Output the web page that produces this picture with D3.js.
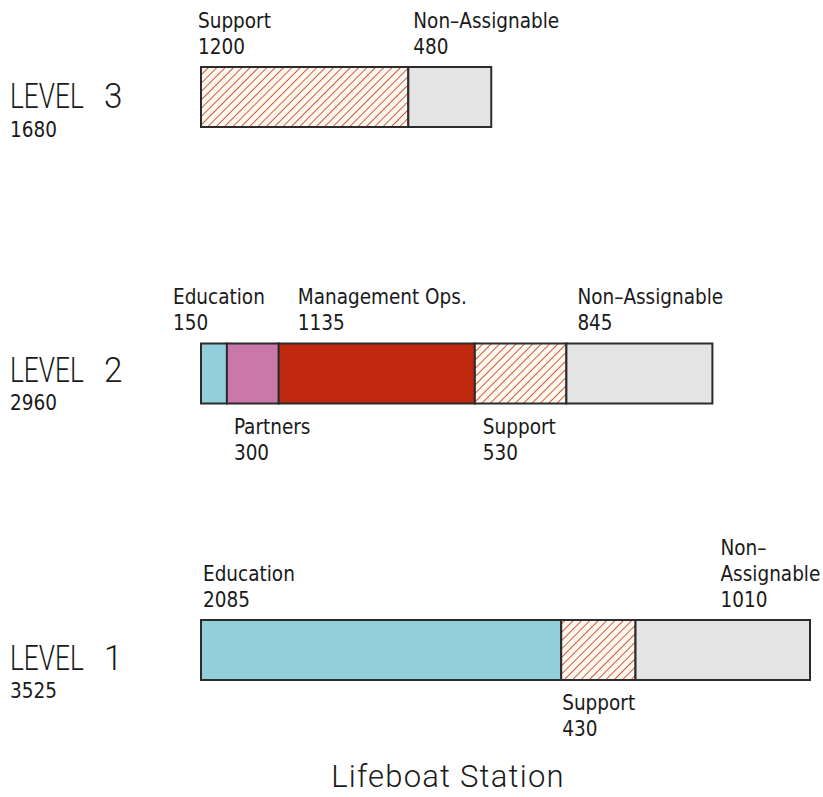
<!DOCTYPE html>
<html>
<head>
<meta charset="utf-8">
<script src="https://cdn.jsdelivr.net/npm/d3@7"></script>
<style>
  html, body { margin: 0; padding: 0; background: #ffffff; }
  svg { display: block; }
</style>
</head>
<body>
<div id="chart"></div>
<script>
// ---- data ----
const levels = ["LEVEL 3", "LEVEL 2", "LEVEL 1"];
const levelTotals = [1680, 2960, 3525];
const level3Categories = ["Support", "Non–Assignable"];
const level3Values = [1200, 480];
const level2Categories = ["Education", "Partners", "Management Ops.", "Support", "Non–Assignable"];
const level2Values = [150, 300, 1135, 530, 845];
const level1Categories = ["Education", "Support", "Non–Assignable"];
const level1Values = [2085, 430, 1010];
const chartTitle = "Lifeboat Station";

// ---- styling / layout (not data) ----
const W = 823, H = 797;
const catColor = {
  "Education": "#93cedb",
  "Partners": "#c978a9",
  "Management Ops.": "#c0290f",
  "Support": "url(#hatch)",
  "Non–Assignable": "#e4e4e4"
};
const labelLayout = [
  [{side: "above", dx: -3}, {side: "above", dx: 5}],
  [{side: "above", dx: -28}, {side: "below", dx: 7}, {side: "above", dx: 19}, {side: "below", dx: 8}, {side: "above", dx: 11}],
  [{side: "above", dx: 2}, {side: "below", dx: 1}, {side: "above", dx: 85, split: true}]
];
const levelLabelDy = [41, 39, 50];
const levelNumDy = [70, 67, 78];

const levelData = [
  {cats: level3Categories, vals: level3Values},
  {cats: level2Categories, vals: level2Values},
  {cats: level1Categories, vals: level1Values}
];

const svg = d3.select("#chart").append("svg")
  .attr("width", W).attr("height", H);

const defs = svg.append("defs");
const pat = defs.append("pattern")
  .attr("id", "hatch")
  .attr("patternUnits", "userSpaceOnUse")
  .attr("width", 5.9).attr("height", 5.9)
  .attr("patternTransform", "rotate(45)");
pat.append("rect").attr("width", 5.9).attr("height", 5.9).attr("fill", "#fff9f2");
pat.append("line")
  .attr("x1", 0).attr("y1", 0).attr("x2", 0).attr("y2", 5.9)
  .attr("stroke", "#c84a28").attr("stroke-width", 1.8);

const x = d3.scaleLinear().domain([0, d3.max(levelTotals)]).range([201, 810]);
const y = d3.scaleBand().domain(levels).range([67, 680]).paddingInner(0.783).paddingOuter(0);

const labelFont = "'DejaVu Sans Condensed', 'DejaVu Sans', sans-serif";
const bigFont = "Roboto, 'DejaVu Sans', sans-serif";

levels.forEach((lv, i) => {
  const g = svg.append("g");
  const d = levelData[i];
  let cum = 0;
  const segs = d.vals.map((v, j) => {
    const s = {cat: d.cats[j], v, x0: cum, x1: cum + v, lay: labelLayout[i][j]};
    cum += v;
    return s;
  });
  const top = y(lv), bh = y.bandwidth(), bottom = top + bh;

  g.selectAll("rect.seg").data(segs).enter().append("rect")
    .attr("class", "seg")
    .attr("x", s => x(s.x0))
    .attr("y", top)
    .attr("width", s => x(s.x1) - x(s.x0))
    .attr("height", bh)
    .attr("fill", s => catColor[s.cat])
    .attr("stroke", "#2b2b2b")
    .attr("stroke-width", 2);

  segs.forEach(s => {
    let lines = s.lay.split ? ["Non–", "Assignable", String(s.v)] : [s.cat, String(s.v)];
    const lh = 26;
    let baseY;
    if (s.lay.side === "above") {
      baseY = top - 13 - (lines.length - 1) * lh;
    } else {
      baseY = bottom + 30;
    }
    const t = g.append("text")
      .attr("font-family", labelFont)
      .attr("font-size", 20.5)
      .attr("fill", "#1a1a1a");
    lines.forEach((ln, k) => {
      t.append("tspan").attr("x", x(s.x0) + s.lay.dx).attr("y", baseY + k * lh).text(ln);
    });
  });

  // level labels
  const parts = lv.split(" ");
  g.append("text")
    .attr("transform", `translate(10,${top + levelLabelDy[i]}) scale(0.75,1)`)
    .attr("font-family", bigFont)
    .attr("font-weight", 300)
    .attr("font-size", 35)
    .attr("fill", "#1a1a1a")
    .text(parts[0]);
  g.append("text")
    .attr("transform", `translate(104,${top + levelLabelDy[i]}) scale(0.95,1)`)
    .attr("font-family", bigFont)
    .attr("font-weight", 300)
    .attr("font-size", 35)
    .attr("fill", "#1a1a1a")
    .text(parts[1]);

  g.append("text")
    .attr("x", 10)
    .attr("y", top + levelNumDy[i])
    .attr("font-family", labelFont)
    .attr("font-size", 20.5)
    .attr("fill", "#1a1a1a")
    .text(levelTotals[i]);
});

svg.append("text")
  .attr("x", 448)
  .attr("y", 787)
  .attr("text-anchor", "middle")
  .attr("font-family", bigFont)
  .attr("font-weight", 300)
  .attr("font-size", 31)
  .attr("letter-spacing", 1.2)
  .attr("fill", "#1a1a1a")
  .text(chartTitle);
</script>
</body>
</html>
